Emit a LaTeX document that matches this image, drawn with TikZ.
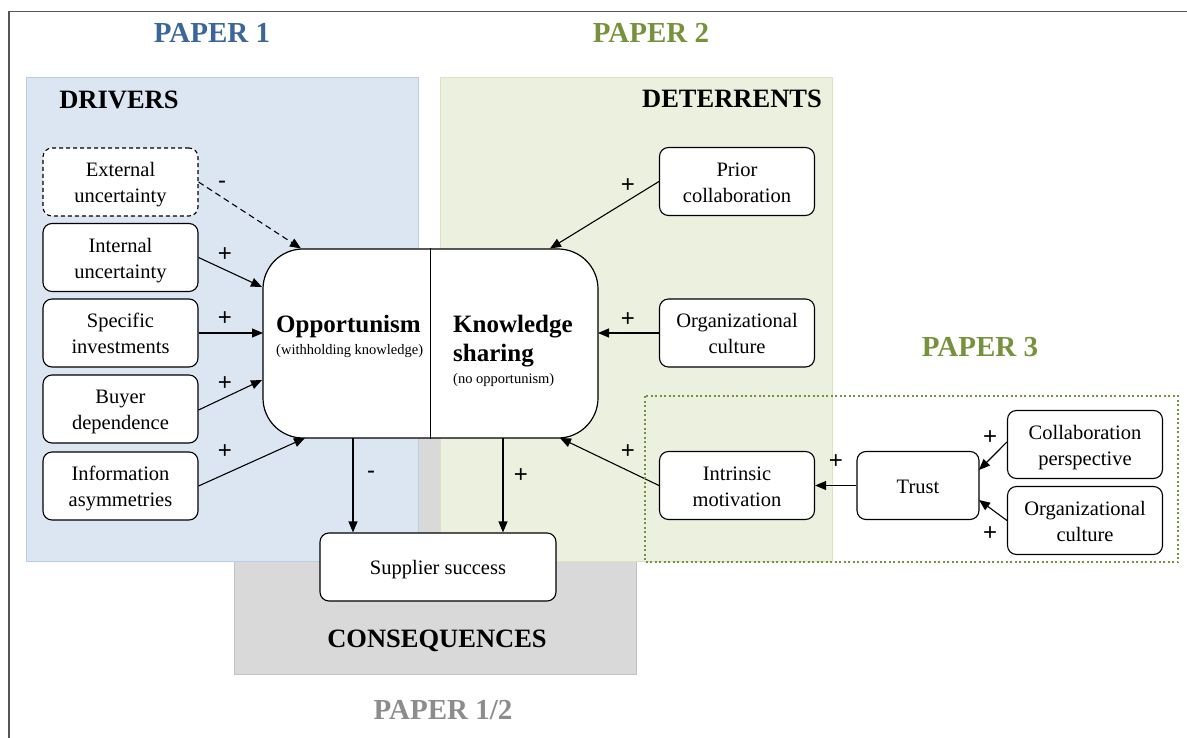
\documentclass[tikz,border=0pt]{standalone}
\usepackage{fontspec}
\setmainfont{Liberation Serif}
\newfontfamily\signfont{Liberation Sans}
\usetikzlibrary{arrows.meta}

\definecolor{framegray}{HTML}{555555}
\definecolor{driverfill}{HTML}{DCE6F2}
\definecolor{driverline}{HTML}{B9CDE5}
\definecolor{deterfill}{HTML}{EBF1DE}
\definecolor{deterline}{HTML}{D7E4BD}
\definecolor{conseqfill}{HTML}{D9D9D9}
\definecolor{conseqline}{HTML}{C3C3C3}
\definecolor{paperblue}{HTML}{3B6699}
\definecolor{papergreen}{HTML}{76923C}
\definecolor{papergray}{HTML}{8C8C8C}

\tikzset{
  % one-line factor box; fixed text height/depth keep baselines uniform
  factor/.style={draw, fill=white, rounded corners=9pt, line width=1.1pt,
    minimum width=155pt, minimum height=68pt, inner sep=0pt, align=center,
    font=\fontsize{20.5}{26}\selectfont, text height=20pt, text depth=4.6pt},
  % two-line factor box (text box measured from the last baseline)
  pair/.style={factor, text height=46pt},
  link/.style={-{Triangle[length=11pt,width=9pt]}, line width=1.1pt},
  sign/.style={font=\signfont\fontsize{24}{24}\selectfont, inner sep=0pt},
  area/.style={line width=0.9pt},
  paperlbl/.style={font=\bfseries\fontsize{29}{29}\selectfont, anchor=base, inner sep=0pt},
  sectlbl/.style={font=\bfseries\fontsize{26.5}{26.5}\selectfont, anchor=base, inner sep=0pt},
  corelbl/.style={font=\bfseries\fontsize{25}{25}\selectfont, anchor=base west, inner sep=0pt},
  corenote/.style={font=\fontsize{14.5}{14.5}\selectfont, anchor=base west, inner sep=0pt},
}

\begin{document}
\begin{tikzpicture}[x=1pt,y=-1pt]
\useasboundingbox (0,0) rectangle (1187,738);

% outer frame (top and left edges)
\draw[framegray, line width=1.5pt] (9,738) -- (9,11.5) -- (1187,11.5);

% shaded areas
\draw[area, draw=conseqline, fill=conseqfill] (234,300) rectangle (636,674);
\draw[area, draw=driverline, fill=driverfill] (26,77) rectangle (418,561);
\draw[area, draw=deterline, fill=deterfill] (440,77) rectangle (832,561);

% paper and section headings
\node[paperlbl, text=paperblue] (p1) at (212,43) {PAPER 1};
\node[paperlbl, text=papergreen] (p2) at (651,43) {PAPER 2};
\node[paperlbl, text=papergreen] (p3) at (980,356) {PAPER 3};
\node[paperlbl, text=papergray] (p12) at (443,719) {PAPER 1/2};
\node[sectlbl] (drv) at (119,108.3) {DRIVERS};
\node[sectlbl] (det) at (732,108) {DETERRENTS};
\node[sectlbl] (csq) at (437,647) {CONSEQUENCES};

% drivers
\node[pair, dash pattern=on 4pt off 3pt] (ext) at (120.5,182) {External\\uncertainty};
\node[pair] (int) at (120.5,257.5) {Internal\\uncertainty};
\node[pair] (spec) at (120.5,333) {Specific\\investments};
\node[pair] (buy) at (120.5,409) {Buyer\\dependence};
\node[pair] (info) at (120.5,486) {Information\\asymmetries};

% deterrents
\node[pair] (prior) at (737,181.5) {Prior\\collaboration};
\node[pair] (orgc) at (737,333) {Organizational\\culture};
\node[pair] (intr) at (737,485.5) {Intrinsic\\motivation};

% paper 3 antecedents
\node[factor, minimum width=122pt] (trust) at (918,485.5) {Trust};
\node[pair] (collab) at (1085,444.5) {Collaboration\\perspective};
\node[pair] (orgc2) at (1085,520.5) {Organizational\\culture};

% consequence
\node[factor, minimum width=236pt] (succ) at (438,567) {Supplier success};

% central construct
\node[draw, fill=white, rounded corners=40pt, line width=1.2pt,
      minimum width=335pt, minimum height=189pt] (core) at (430.5,343.5) {};
\coordinate (split) at (430,343.5);
\draw[line width=1pt] (split |- core.north) -- (split |- core.south);
\node[corelbl] (opp) at (276,332.7) {Opportunism};
\node[corenote] (oppnote) at (276,354) {(withholding knowledge)};
\node[corelbl] (ks1) at (453,332.7) {Knowledge};
\node[corelbl] (ks2) at (453,361.7) {sharing};
\node[corenote] (ksnote) at (453,383) {(no opportunism)};

% arrow end points on the central construct
\coordinate (cExt) at (301,248.5);
\coordinate (cInt) at (262,287);
\coordinate (cSpec) at (263,333);
\coordinate (cBuy) at (262,380);
\coordinate (cInfo) at (305,438);
\coordinate (cPrior) at (550,248.5);
\coordinate (cOrgc) at (598,333);
\coordinate (cIntr) at (560,438);
\coordinate (cOppOut) at (353,438);
\coordinate (cKsOut) at (503,438);
\coordinate (tTrustA) at (979,470);
\coordinate (tTrustB) at (979,500);

% links
\draw[link, dashed, dash pattern=on 6pt off 4pt] (ext.east) -- (cExt);
\draw[link] (int.east) -- (cInt);
\draw[link] (spec.east) -- (cSpec);
\draw[link] ([yshift=-1pt]buy.east) -- (cBuy);
\draw[link] (info.east) -- (cInfo);
\draw[link] (prior.west) -- (cPrior);
\draw[link] (orgc.west) -- (cOrgc);
\draw[link] (intr.west) -- (cIntr);
\draw[link] (trust.west) -- (intr.east);
\draw[link] ([yshift=2.5pt]collab.west) -- (tTrustA);
\draw[link] (orgc2.west) -- (tTrustB);
\draw[link] (cOppOut) -- (cOppOut |- succ.north);
\draw[link] (cKsOut) -- (cKsOut |- succ.north);

% signs
\node[sign] (sExt) at (222,185) {-};
\node[sign] (sInt) at (225,255) {+};
\node[sign] (sSpec) at (225,319) {+};
\node[sign] (sBuy) at (225,384) {+};
\node[sign] (sInfo) at (225,452) {+};
\node[sign] (sPrior) at (628,186) {+};
\node[sign] (sOrgc) at (628,320) {+};
\node[sign] (sIntr) at (628,452) {+};
\node[sign] (sTrust) at (836,462) {+};
\node[sign] (sCollab) at (990,438) {+};
\node[sign] (sOrgc2) at (990,534) {+};
\node[sign] (sOpp) at (371,475) {-};
\node[sign] (sKs) at (521,476) {+};

% paper 3 boundary
\draw[papergreen, line width=2pt, dash pattern=on 2pt off 2.5pt] (645,396) rectangle (1178,562);
\end{tikzpicture}
\end{document}
